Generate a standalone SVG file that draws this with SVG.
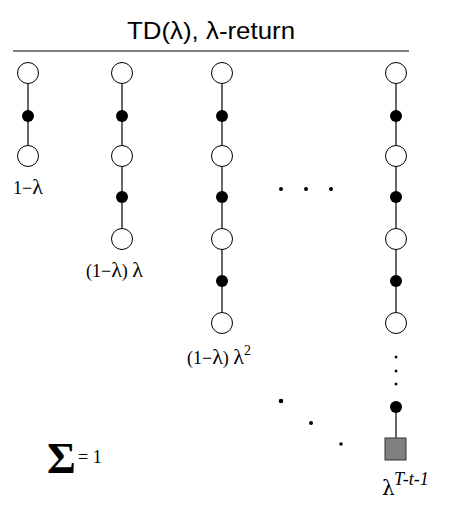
<svg xmlns="http://www.w3.org/2000/svg" width="449" height="512" viewBox="0 0 449 512">
<style>
.s{fill:#fff;stroke:#000;stroke-width:1}
.a{fill:#000}
.e{stroke:#000;stroke-width:1.2;fill:none}
.lbl{font-family:"Liberation Serif","Times New Roman",serif;font-size:18px;fill:#000}
.l{font-size:22px}
.ttl{font-family:"Liberation Sans",Arial,sans-serif;font-size:24px;fill:#000}
</style>
<rect width="449" height="512" fill="#fff"/>
<g id="title">
<text class="ttl" x="211" y="39" text-anchor="middle" textLength="168" lengthAdjust="spacingAndGlyphs">TD(λ), λ-return</text>
<line x1="13" y1="51" x2="409" y2="51" stroke="#000" stroke-width="1.2"/>
</g>
<g id="connectors">
<line class="e" x1="28" y1="83.5" x2="28" y2="145.5"/>
<line class="e" x1="122" y1="83.5" x2="122" y2="228.5"/>
<line class="e" x1="222" y1="83.5" x2="222" y2="312.5"/>
<line class="e" x1="396" y1="83.5" x2="396" y2="312.5"/>
<line class="e" x1="396" y1="407" x2="396" y2="438"/>
</g>
<g id="col1">
<circle class="s" cx="28" cy="73" r="10.5"/>
<circle class="a" cx="28" cy="116" r="6"/>
<circle class="s" cx="28" cy="156" r="10.5"/>
<text class="lbl" x="13" y="194">1−<tspan class="l">λ</tspan></text>
</g>
<g id="col2">
<circle class="s" cx="122" cy="73" r="10.5"/>
<circle class="a" cx="122" cy="116" r="6"/>
<circle class="s" cx="122" cy="156" r="10.5"/>
<circle class="a" cx="122" cy="197" r="6"/>
<circle class="s" cx="122" cy="239" r="10.5"/>
<text class="lbl" x="86" y="277">(1−<tspan class="l">λ</tspan>) <tspan class="l">λ</tspan></text>
</g>
<g id="col3">
<circle class="s" cx="222" cy="73" r="10.5"/>
<circle class="a" cx="222" cy="116" r="6"/>
<circle class="s" cx="222" cy="156" r="10.5"/>
<circle class="a" cx="222" cy="197" r="6"/>
<circle class="s" cx="222" cy="239" r="10.5"/>
<circle class="a" cx="222" cy="281" r="6"/>
<circle class="s" cx="222" cy="323" r="10.5"/>
<text class="lbl" x="187" y="364">(1−<tspan class="l">λ</tspan>) <tspan class="l">λ</tspan><tspan font-size="14" dy="-9">2</tspan></text>
</g>
<g id="col4">
<circle class="s" cx="396" cy="73" r="10.5"/>
<circle class="a" cx="396" cy="116" r="6"/>
<circle class="s" cx="396" cy="156" r="10.5"/>
<circle class="a" cx="396" cy="197" r="6"/>
<circle class="s" cx="396" cy="239" r="10.5"/>
<circle class="a" cx="396" cy="281" r="6"/>
<circle class="s" cx="396" cy="323" r="10.5"/>
<rect class="a" x="394.8" y="355.8" width="2.5" height="2.5"/>
<rect class="a" x="394.8" y="369.8" width="2.5" height="2.5"/>
<rect class="a" x="394.8" y="382.8" width="2.5" height="2.5"/>
<circle class="a" cx="396" cy="407" r="6"/>
<rect x="385" y="438" width="21" height="22" fill="#808080" stroke="#333" stroke-width="1"/>
<text x="382" y="495" font-family="'DejaVu Serif',serif" font-size="20">λ</text>
<text class="lbl" x="394" y="485" font-size="13" font-style="italic">T-t-1</text>
</g>
<g id="ellipsis-h">
<circle class="a" cx="281" cy="189" r="2"/>
<circle class="a" cx="306" cy="189" r="2"/>
<circle class="a" cx="331" cy="189" r="2"/>
</g>
<g id="ellipsis-diag">
<circle class="a" cx="281" cy="401" r="2.3"/>
<circle class="a" cx="311" cy="423" r="2"/>
<rect class="a" x="339.5" y="442.5" width="3" height="3"/>
</g>
<g id="sum">
<text x="47" y="473" font-family="'Liberation Serif','Times New Roman',serif" font-weight="bold" font-size="44">Σ</text>
<text class="lbl" x="78" y="463" font-size="17">= 1</text>
</g>
</svg>
